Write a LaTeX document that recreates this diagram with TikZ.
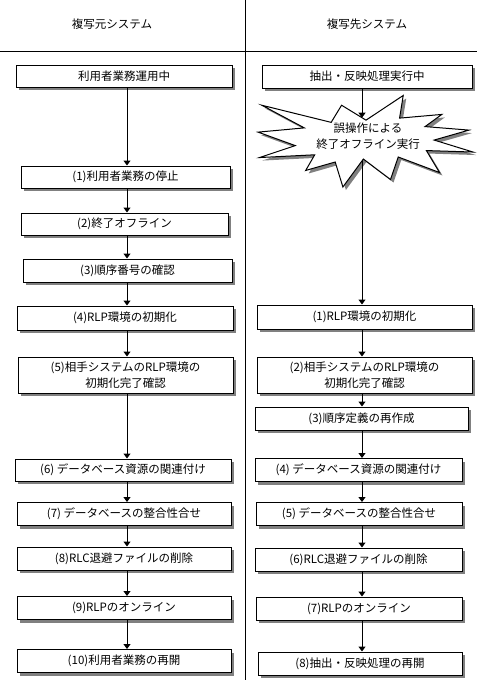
\documentclass[tikz,border=0pt]{standalone}
\usepackage{fontspec}
\newfontfamily\jp{Noto Sans CJK JP}
\usetikzlibrary{arrows.meta,shadows}
\begin{document}
\begin{tikzpicture}[x=1pt,y=-1pt,
  box/.style={draw, fill=white, line width=1pt, inner sep=0pt, align=center,
    font=\jp\fontsize{11.5}{16}\selectfont,
    drop shadow={shadow xshift=3pt,shadow yshift=-3pt,opacity=1,fill=black!50}},
  head/.style={inner sep=0pt, font=\jp\fontsize{11.5}{16}\selectfont},
  startext/.style={inner sep=0pt, align=center, font=\jp\fontsize{11.5}{16}\selectfont},
  arr/.style={line width=1pt, -{Triangle[width=7pt,length=5pt]}},
  rule/.style={line width=1pt}]
\useasboundingbox (0,0) rectangle (477,680);
% frame lines
\draw[rule] (0,51) -- (477,51);
\draw[rule] (245,0) -- (245,680);
\node[head] (hl) at (112,24) {複写元システム};
\node[head] (hr) at (367,24) {複写先システム};
% arrow axes
\coordinate (axL) at (127,0);
\coordinate (axR) at (362,0);
% left column
\node[box, minimum width=216pt, minimum height=22pt] (L0) at (124,76) {利用者業務運用中};
\node[box, minimum width=209pt, minimum height=22pt] (L1) at (125.5,177) {(1)利用者業務の停止};
\node[box, minimum width=207pt, minimum height=22pt] (L2) at (124.5,224) {(2)終了オフライン};
\node[box, minimum width=209pt, minimum height=23pt] (L3) at (127.5,270.5) {(3)順序番号の確認};
\node[box, minimum width=216pt, minimum height=24pt] (L4) at (125,318) {(4)RLP環境の初期化};
\node[box, minimum width=215pt, minimum height=36pt] (L5) at (125.5,375) {(5)相手システムのRLP環境の\\初期化完了確認};
\node[box, minimum width=216pt, minimum height=22pt] (L6) at (123,470) {(6) データベース資源の関連付け};
\node[box, minimum width=214pt, minimum height=23pt] (L7) at (124,514) {(7) データベースの整合性合せ};
\node[box, minimum width=214pt, minimum height=23pt] (L8) at (124,558.5) {(8)RLC退避ファイルの削除};
\node[box, minimum width=214pt, minimum height=23pt] (L9) at (124,608) {(9)RLPのオンライン};
\node[box, minimum width=214pt, minimum height=23pt] (L10) at (124,661) {(10)利用者業務の再開};
% right column
\node[box, minimum width=210pt, minimum height=23pt] (R0) at (367,76.5) {抽出・反映処理実行中};
% starburst (shadow then shape)
\fill[black!50, shift={(3,3)}] (366.01,120.15) -- (341.58,105.22) -- (331.17,122.37) -- (261.76,105.22) -- (304.32,127.89) -- (258.06,132.13) -- (295.28,145.6) -- (259.43,157.56) -- (314.72,154.8) -- (305.68,170.47) -- (335.19,162.0) -- (342.9,187) -- (363.37,159.05) -- (390.49,179.5) -- (398.25,157.02) -- (439.48,172.5) -- (426.38,150.56) -- (473,152.04) -- (434.1,140.06) -- (468.98,130.1) -- (425.06,126.59) -- (441.82,114.42) -- (399.57,118.12) -- (403.23,95.45) -- cycle;
\draw[line width=1pt, fill=white] (366.01,120.15) -- (341.58,105.22) -- (331.17,122.37) -- (261.76,105.22) -- (304.32,127.89) -- (258.06,132.13) -- (295.28,145.6) -- (259.43,157.56) -- (314.72,154.8) -- (305.68,170.47) -- (335.19,162.0) -- (342.9,187) -- (363.37,159.05) -- (390.49,179.5) -- (398.25,157.02) -- (439.48,172.5) -- (426.38,150.56) -- (473,152.04) -- (434.1,140.06) -- (468.98,130.1) -- (425.06,126.59) -- (441.82,114.42) -- (399.57,118.12) -- (403.23,95.45) -- cycle;
\node[startext] (star) at (368,136.5) {誤操作による\\終了オフライン実行};
\coordinate (starIn) at (362,117.7);
\coordinate (starOut) at (362,161);
\node[box, minimum width=215pt, minimum height=24pt] (R1) at (364.5,317) {(1)RLP環境の初期化};
\node[box, minimum width=215pt, minimum height=36pt] (R2) at (364.5,375) {(2)相手システムのRLP環境の\\初期化完了確認};
\node[box, minimum width=213pt, minimum height=23pt] (R3) at (361.5,418.5) {(3)順序定義の再作成};
\node[box, minimum width=207pt, minimum height=23pt] (R4) at (358.5,470) {(4) データベース資源の関連付け};
\node[box, minimum width=206pt, minimum height=23pt] (R5) at (359,514) {(5) データベースの整合性合せ};
\node[box, minimum width=207pt, minimum height=23pt] (R6) at (358.5,559.5) {(6)RLC退避ファイルの削除};
\node[box, minimum width=206pt, minimum height=23pt] (R7) at (359,608.5) {(7)RLPのオンライン};
\node[box, minimum width=204pt, minimum height=23pt] (R8) at (360,663.5) {(8)抽出・反映処理の再開};
% left connectors
\foreach \a/\b in {L0/L1,L1/L2,L2/L3,L3/L4,L4/L5,L5/L6,L6/L7,L7/L8,L8/L9,L9/L10}
  \draw[arr] (\a.south -| axL) -- (\b.north -| axL);
% right connectors
\draw[arr] (R0.south -| axR) -- (starIn);
\draw[arr] (starOut) -- (R1.north -| axR);
\foreach \a/\b in {R1/R2,R2/R3,R3/R4,R4/R5,R5/R6,R6/R7,R7/R8}
  \draw[arr] (\a.south -| axR) -- (\b.north -| axR);
\end{tikzpicture}
\end{document}
